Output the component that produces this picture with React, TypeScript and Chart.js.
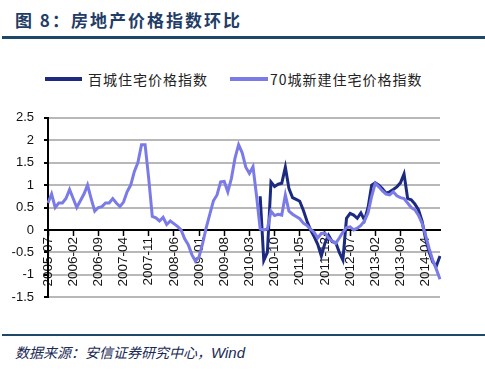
import React, { useEffect, useRef } from 'react';
import { Chart, registerables } from 'chart.js';

Chart.register(...registerables);

// Monthly categories 2005-07 .. 2014-08
const FIRST_YEAR = 2005;
const FIRST_MONTH = 7;
const MONTH_COUNT = 110;
const months: string[] = [];
for (let k = 0; k < MONTH_COUNT; k++) {
  const m = FIRST_MONTH - 1 + k;
  const y = FIRST_YEAR + Math.floor(m / 12);
  const mm = (m % 12) + 1;
  months.push(`${y}-${mm < 10 ? '0' + mm : mm}`);
}
const LABEL_EVERY = 7;

const yTicks = [-1.5, -1, -0.5, 0, 0.5, 1, 1.5, 2, 2.5];

const seriesNames = ['百城住宅价格指数', '70城新建住宅价格指数'];

// 百城住宅价格指数 (starts 2010-06)
const hundredCity: (number | null)[] = [
  null, null, null, null, null, null, null, null, null, null,
  null, null, null, null, null, null, null, null, null, null,
  null, null, null, null, null, null, null, null, null, null,
  null, null, null, null, null, null, null, null, null, null,
  null, null, null, null, null, null, null, null, null, null,
  null, null, null, null, null, null, null, null, null,
  0.75, -0.68, -0.5, 1.07, 0.97, 1.02, 1.04, 1.4, 0.92, 0.72,
  0.68, 0.64, 0.44, 0.2, 0.0, -0.15, -0.32, -0.58, -0.3, -0.12,
  -0.26, -0.28, -0.5, -0.67, 0.26, 0.37, 0.33, 0.26, 0.38, 0.22,
  0.5, 1.0, 1.05, 1.0, 0.92, 0.82, 0.85, 0.9, 0.96, 1.05,
  1.25, 0.7, 0.67, 0.58, 0.45, 0.2, -0.2, -0.5, -0.72, -0.8,
  -0.58,
];

// 70城新建住宅价格指数
const seventyCity: number[] = [
  0.6, 0.8, 0.5, 0.6, 0.6, 0.7, 0.9, 0.7, 0.5, 0.65,
  0.8, 1.0, 0.7, 0.42, 0.5, 0.52, 0.6, 0.6, 0.7, 0.6,
  0.52, 0.62, 0.85, 1.0, 1.3, 1.5, 1.9, 1.9, 1.15, 0.3,
  0.27, 0.2, 0.28, 0.12, 0.2, 0.14, 0.08, 0.0, -0.2, -0.33,
  -0.55, -0.7, -0.6, -0.3, 0.05, 0.35, 0.65, 0.78, 1.07, 1.08,
  0.85, 1.15, 1.6, 1.9, 1.72, 1.4, 1.26, 1.41, 0.75, 0.02,
  0.0, 0.02, 0.42, 0.32, 0.35, 0.33, 0.78, 0.42, 0.35, 0.3,
  0.25, 0.15, 0.1, 0.02, -0.05, -0.18, -0.08, -0.07, -0.18, -0.25,
  -0.3, -0.18, -0.05, 0.05, 0.07, 0.0, 0.04, 0.1, 0.2, 0.38,
  0.75, 1.04, 0.96, 0.87, 0.8, 0.78, 0.85, 0.76, 0.72, 0.7,
  0.6, 0.5, 0.45, 0.33, 0.15, -0.12, -0.42, -0.68, -0.88, -1.1,
];

const DARK = '#1c2a80';
const LIGHT = '#7b7be8';

export default function App() {
  const canvasRef = useRef<HTMLCanvasElement | null>(null);

  useEffect(() => {
    document.body.style.margin = '0';
    const canvas = canvasRef.current;
    if (!canvas) return;
    const chart = new Chart(canvas, {
      type: 'line',
      data: {
        labels: months,
        datasets: [
          {
            label: seriesNames[0],
            data: hundredCity,
            borderColor: DARK,
            backgroundColor: DARK,
            borderWidth: 3,
            pointRadius: 0,
            tension: 0,
            spanGaps: false,
            order: 1,
          },
          {
            label: seriesNames[1],
            data: seventyCity,
            borderColor: LIGHT,
            backgroundColor: LIGHT,
            borderWidth: 3,
            pointRadius: 0,
            tension: 0,
            order: 0,
          },
        ],
      },
      options: {
        responsive: false,
        animation: false,
        devicePixelRatio: 1,
        layout: { padding: { left: 0, right: 10, top: 15, bottom: 8 } },
        plugins: {
          legend: { display: false },
          tooltip: { enabled: false },
        },
        scales: {
          x: {
            type: 'category',
            position: { y: 0 } as any,
            offset: false,
            grid: {
              display: true,
              drawOnChartArea: false,
              drawTicks: true,
              tickLength: 5,
              tickColor: '#000',
              tickWidth: 1.5,
            },
            border: { display: true, color: '#000', width: 2 },
            ticks: {
              autoSkip: false,
              maxRotation: 90,
              minRotation: 90,
              padding: 2,
              color: '#111',
              font: { family: "'Liberation Sans', Arial, sans-serif", size: 13.5 },
              callback: (_v: any, i: number) => (i % LABEL_EVERY === 0 ? months[i] : null),
            },
          },
          y: {
            min: yTicks[0],
            max: yTicks[yTicks.length - 1],
            afterFit: (scale: any) => {
              scale.width = 48;
            },
            afterBuildTicks: (scale: any) => {
              scale.ticks = yTicks.map((v) => ({ value: v }));
            },
            grid: {
              color: '#b8b8b8',
              lineWidth: 2,
              drawTicks: true,
              tickLength: 4,
              tickColor: '#000',
              tickWidth: 2,
            },
            border: { display: true, color: '#000', width: 2 },
            ticks: {
              padding: 10,
              color: '#111',
              font: { family: "'Liberation Sans', Arial, sans-serif", size: 13 },
              callback: (v: any) => String(v),
            },
          },
        },
      },
    });
    return () => chart.destroy();
  }, []);

  const legendText: React.CSSProperties = {
    position: 'absolute',
    top: 70,
    fontFamily: "'Noto Sans CJK SC', sans-serif",
    fontSize: 14,
    letterSpacing: 1,
    color: '#222',
    lineHeight: '18px',
    whiteSpace: 'nowrap',
  };

  return (
    <div style={{ position: 'relative', width: 485, height: 374, background: '#fff', overflow: 'hidden' }}>
      <div
        style={{
          position: 'absolute',
          left: 15,
          top: 8,
          fontFamily: "'Noto Sans CJK SC', sans-serif",
          fontWeight: 700,
          fontSize: 17,
          letterSpacing: 2,
          color: '#1f3d66',
          lineHeight: '24px',
          whiteSpace: 'nowrap',
        }}
      >
        图 8：房地产价格指数环比
      </div>
      <div style={{ position: 'absolute', left: 2, right: 0, top: 36, height: 3, background: '#1f4868' }} />

      <div style={{ position: 'absolute', left: 45, top: 77, width: 37, height: 4, background: DARK }} />
      <div style={{ ...legendText, left: 88 }}>{seriesNames[0]}</div>
      <div style={{ position: 'absolute', left: 230, top: 77, width: 38, height: 4, background: LIGHT }} />
      <div style={{ ...legendText, left: 270 }}>{seriesNames[1]}</div>

      <canvas
        ref={canvasRef}
        width={450}
        height={215}
        style={{ position: 'absolute', left: 0, top: 100, width: 450, height: 215 }}
      />

      <div style={{ position: 'absolute', left: 2, right: 0, top: 334, height: 2, background: '#1f4868' }} />
      <div
        style={{
          position: 'absolute',
          left: 15,
          top: 342,
          fontFamily: "'Noto Sans CJK SC', sans-serif",
          fontStyle: 'italic',
          fontSize: 14,
          color: '#1a2a55',
          lineHeight: '20px',
          whiteSpace: 'nowrap',
        }}
      >
        数据来源：安信证券研究中心，
        <span style={{ fontFamily: "'Liberation Sans', Arial, sans-serif", fontSize: 15 }}>Wind</span>
      </div>
    </div>
  );
}
